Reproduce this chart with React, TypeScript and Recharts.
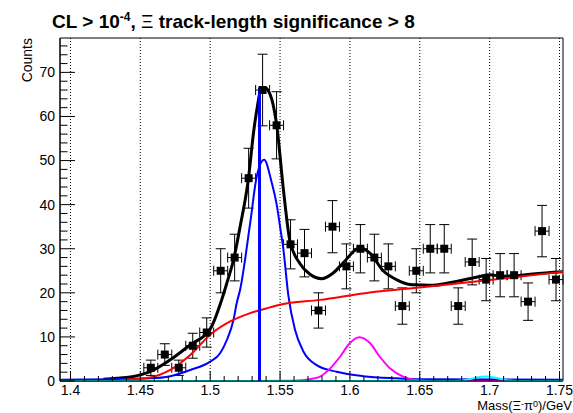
import {
  ComposedChart,
  ErrorBar,
  Line,
  ReferenceArea,
  ReferenceLine,
  Scatter,
  XAxis,
  YAxis,
} from "recharts";

// histogram: bin centres (GeV) and counts, 0.01 GeV bins
const binCenters = [
  1.4575, 1.4675, 1.4775, 1.4875, 1.4975, 1.5075, 1.5175, 1.5275, 1.5375, 1.5475,
  1.5575, 1.5675, 1.5775, 1.5875, 1.5975, 1.6075, 1.6175, 1.6275, 1.6375, 1.6475,
  1.6575, 1.6675, 1.6775, 1.6875, 1.6975, 1.7075, 1.7175, 1.7275, 1.7375, 1.7475,
];
const counts = [
  3, 6, 3, 8, 11, 25, 28, 46, 66, 58,
  31, 29, 16, 35, 26, 30, 28, 26, 17, 25,
  30, 30, 17, 27, 23, 24, 24, 18, 34, 23,
];
const binHalfWidth = 0.005;

// fit curves
const totalM = [
  1.4236, 1.433, 1.443, 1.457, 1.4714, 1.4857, 1.5, 1.5083, 1.5119, 1.5167, 1.5214,
  1.5274, 1.531, 1.5338, 1.5364, 1.5393, 1.5417, 1.5441, 1.5476, 1.5524, 1.5571,
  1.5643, 1.5714, 1.5798, 1.588, 1.5952, 1.6071, 1.6143, 1.6238, 1.6333, 1.6429,
  1.65, 1.6595, 1.6762, 1.6929, 1.7, 1.7095, 1.72, 1.731, 1.7525,
];
const totalV = [
  0.4, 0.6, 0.9, 2.1, 4.8, 8.2, 11.8, 18.5, 22.2, 27.5, 35,
  46, 56.3, 62.3, 66.3, 66.5, 65.8, 63.9, 58, 43.4, 31.7,
  26.6, 24.2, 23.2, 24.5, 26.8, 30.2, 29, 25, 23, 21.9,
  21.8, 21.7, 22.6, 23.7, 24.1, 23.7, 23.9, 24.3, 24.8,
];

const bkgM = [1.432, 1.443, 1.457, 1.4714, 1.4857, 1.5, 1.5143, 1.5286, 1.5429, 1.55, 1.5786, 1.6143, 1.65, 1.7, 1.7525];
const bkgV = [0, 0.4, 0.8, 2.5, 5.9, 10.5, 13.5, 15.4, 16.7, 17.3, 18.4, 20.1, 21.2, 22.9, 24.8];

const xiM = [
  1.3925, 1.43, 1.457, 1.4714, 1.4857, 1.5, 1.5071, 1.5119, 1.5167, 1.519, 1.5214,
  1.5286, 1.5333, 1.5386, 1.5441, 1.5476, 1.55, 1.5524, 1.5559, 1.5607, 1.5667,
  1.5762, 1.5905, 1.6095, 1.6333, 1.65, 1.7525,
];
const xiV = [
  0.3, 0.4, 0.6, 1.1, 2.5, 4.4, 6.3, 9.3, 13.9, 17.7, 20.7,
  35.8, 46.4, 50.2, 44.9, 40, 35, 29.8, 19.5, 11.6, 6.7,
  3.6, 2.1, 1.1, 0.6, 0.4, 0.3,
];

const peak2M = [1.514, 1.56, 1.5714, 1.5786, 1.5857, 1.5929, 1.6, 1.6067, 1.6143, 1.6214, 1.6286, 1.6381, 1.6476, 1.66, 1.718];
const peak2V = [0, 0.05, 0.4, 1.0, 2.8, 5.5, 8.6, 9.9, 8.6, 5.5, 2.9, 1.0, 0.2, 0, 0];

const peak3M = [1.3925, 1.675, 1.684, 1.69, 1.6976, 1.705, 1.712, 1.72, 1.7525];
const peak3V = [0, 0, 0.3, 0.75, 1.0, 0.7, 0.2, 0, 0];

const xiMass = 1.5353;
const xiMarkerTop = 66.6;

const xMin = 1.3925;
const xMax = 1.7525;
const yMax = 77.8;

const xMajorTicks = [1.4, 1.45, 1.5, 1.55, 1.6, 1.65, 1.7, 1.75];
const xMajorLabels = ["1.4", "1.45", "1.5", "1.55", "1.6", "1.65", "1.7", "1.75"];
const yMajorTicks = [0, 10, 20, 30, 40, 50, 60, 70];

const xTicks: number[] = [];
for (let i = 0; i <= 35; i++) xTicks.push(Math.round((1.4 + i * 0.01) * 1000) / 1000);
const yTicks: number[] = [];
for (let v = 0; v <= 76; v += 2) yTicks.push(v);

const toSeries = (ms: number[], vs: number[]) => ms.map((m, i) => ({ m, v: vs[i] }));

const histPoints = binCenters.map((m, i) => ({
  m,
  v: counts[i],
  ey: Math.sqrt(counts[i]),
  ex: binHalfWidth,
}));
const total = toSeries(totalM, totalV);
const bkg = toSeries(bkgM, bkgV);
const xi = toSeries(xiM, xiV);
const peak2 = toSeries(peak2M, peak2V);
const peak3 = toSeries(peak3M, peak3V);

const font = '"Liberation Sans", Arial, Helvetica, sans-serif';

function XTick(props: any) {
  const { x, y, payload } = props;
  const idx = xMajorTicks.findIndex((t) => Math.abs(t - payload.value) < 1e-6);
  const major = idx >= 0;
  return (
    <g>
      <line x1={x} x2={x} y1={y} y2={y - (major ? 10 : 5)} stroke="#000" />
      {major && (
        <text x={x} y={y + 14} textAnchor="middle" fontSize={14} fontFamily={font} fill="#000">
          {xMajorLabels[idx]}
        </text>
      )}
    </g>
  );
}

function YTick(props: any) {
  const { x, y, payload } = props;
  const major = yMajorTicks.includes(payload.value);
  return (
    <g>
      <line x1={x} x2={x + (major ? 15 : 7.5)} y1={y} y2={y} stroke="#000" />
      {major && (
        <text x={x - 5} y={y} dy="0.35em" textAnchor="end" fontSize={14} fontFamily={font} fill="#000">
          {payload.value}
        </text>
      )}
    </g>
  );
}

export default function App() {
  return (
    <div style={{ position: "absolute", left: 0, top: 0, width: 573, height: 413, background: "#fff" }}>
      <ComposedChart width={573} height={413} margin={{ top: 38, right: 10, bottom: 0, left: 0 }}>
        <XAxis
          type="number"
          dataKey="m"
          domain={[xMin, xMax]}
          allowDataOverflow
          ticks={xTicks}
          interval={0}
          tickSize={0}
          tickMargin={0}
          tickLine={false}
          tick={<XTick />}
          height={32}
          axisLine={{ stroke: "#000" }}
        />
        <YAxis
          type="number"
          domain={[0, yMax]}
          allowDataOverflow
          ticks={yTicks}
          interval={0}
          tickSize={0}
          tickMargin={0}
          tickLine={false}
          tick={<YTick />}
          width={60}
          axisLine={{ stroke: "#000" }}
        />
        <ReferenceArea x1={xMin} x2={xMax} y1={0} y2={yMax} fill="none" stroke="#000" strokeWidth={1} />
        {xMajorTicks.map((t) => (
          <ReferenceLine key={t} x={t} stroke="#000" strokeWidth={1} strokeDasharray="1 2" />
        ))}
        <Scatter data={histPoints} dataKey="v" fill="#000" shape="square" isAnimationActive={false}>
          <ErrorBar dataKey="ey" direction="y" width={5} stroke="#000" strokeWidth={1} />
          <ErrorBar dataKey="ex" direction="x" width={5} stroke="#000" strokeWidth={1} />
        </Scatter>
        <Line data={total} dataKey="v" type="monotone" stroke="#000" strokeWidth={3} dot={false} isAnimationActive={false} />
        <Line data={xi} dataKey="v" type="monotone" stroke="#0000ff" strokeWidth={2} dot={false} isAnimationActive={false} />
        <Line data={bkg} dataKey="v" type="monotone" stroke="#ff0000" strokeWidth={2} dot={false} isAnimationActive={false} />
        <Line data={peak2} dataKey="v" type="monotone" stroke="#ff00ff" strokeWidth={2} dot={false} isAnimationActive={false} />
        <Line data={peak3} dataKey="v" type="monotone" stroke="#00ffff" strokeWidth={2} dot={false} isAnimationActive={false} />
        <ReferenceLine
          segment={[
            { x: xiMass, y: 0 },
            { x: xiMass, y: xiMarkerTop },
          ]}
          stroke="#0000ff"
          strokeWidth={3}
        />
      </ComposedChart>
      <svg
        width={573}
        height={413}
        style={{ position: "absolute", left: 0, top: 0, pointerEvents: "none" }}
        fontFamily={font}
      >
        <text x={52} y={28} fontSize={19} fontWeight="bold" fill="#000">
          CL &gt; 10
          <tspan dy={-7} fontSize={12}>-4</tspan>
          <tspan dy={7}>, </tspan>
          <tspan fontWeight="normal">Ξ</tspan>
          <tspan> track-length significance &gt; 8</tspan>
        </text>
        <text transform="rotate(-90)" x={-38} y={32} textAnchor="end" fontSize={14} fill="#000">
          Counts
        </text>
        <text x={572} y={410} textAnchor="end" fontSize={13} fill="#000">
          Mass(Ξ
          <tspan dy={-3} fontSize={9}>-</tspan>
          <tspan dy={3}>π</tspan>
          <tspan dy={-3} fontSize={9}>0</tspan>
          <tspan dy={3}>)/GeV</tspan>
        </text>
      </svg>
    </div>
  );
}
